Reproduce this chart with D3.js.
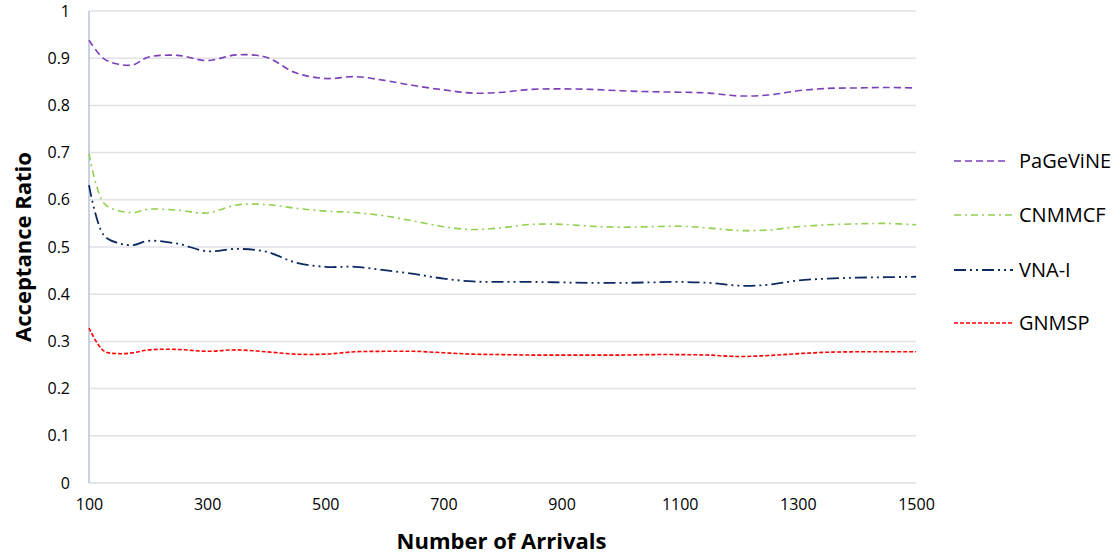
<!DOCTYPE html>
<html>
<head>
<meta charset="utf-8">
<script src="https://cdn.jsdelivr.net/npm/d3@7"></script>
<style>
  html, body { margin: 0; padding: 0; background: #fff; }
  svg { display: block; }
  text { font-family: "Open Sans", "Noto Sans", sans-serif; fill: #000; }
</style>
</head>
<body>
<svg id="chart" width="1120" height="554"></svg>
<script>
// Number of arrivals at which each ratio was sampled
const arrivals = [100, 125, 150, 175, 200, 250, 300, 350, 400, 450, 500, 550, 600, 650, 700, 750,
  800, 850, 900, 950, 1000, 1050, 1100, 1150, 1200, 1250, 1300, 1350, 1400, 1450, 1500];

const pagevine = [0.938, 0.899, 0.887, 0.886, 0.902, 0.906, 0.895, 0.907, 0.902, 0.869, 0.857, 0.861,
  0.853, 0.842, 0.833, 0.826, 0.828, 0.834, 0.835, 0.834, 0.831, 0.829, 0.828, 0.826, 0.820, 0.822,
  0.831, 0.836, 0.837, 0.838, 0.837];
const cnmmcf = [0.698, 0.593, 0.577, 0.573, 0.580, 0.578, 0.572, 0.589, 0.590, 0.582, 0.576, 0.573,
  0.566, 0.555, 0.543, 0.537, 0.541, 0.548, 0.548, 0.544, 0.542, 0.543, 0.544, 0.540, 0.535, 0.536,
  0.543, 0.547, 0.549, 0.550, 0.547];
const vnaI = [0.631, 0.525, 0.508, 0.504, 0.513, 0.507, 0.491, 0.496, 0.490, 0.467, 0.458, 0.458,
  0.451, 0.443, 0.433, 0.427, 0.426, 0.426, 0.425, 0.424, 0.424, 0.425, 0.426, 0.424, 0.418, 0.420,
  0.429, 0.433, 0.435, 0.436, 0.437];
const gnmsp = [0.328, 0.280, 0.274, 0.276, 0.282, 0.283, 0.279, 0.282, 0.278, 0.273, 0.273, 0.278,
  0.279, 0.279, 0.276, 0.273, 0.272, 0.271, 0.271, 0.271, 0.271, 0.272, 0.272, 0.271, 0.268, 0.270,
  0.274, 0.277, 0.278, 0.278, 0.278];

const seriesNames = ["PaGeViNE", "CNMMCF", "VNA-I", "GNMSP"];
const xTicks = [100, 300, 500, 700, 900, 1100, 1300, 1500];
const yTicks = [0, 0.1, 0.2, 0.3, 0.4, 0.5, 0.6, 0.7, 0.8, 0.9, 1];

const series = [
  { name: seriesNames[0], values: pagevine, color: "#7B3FB9", dash: "7,4", width: 1.6 },
  { name: seriesNames[1], values: cnmmcf, color: "#92D050", dash: "7,4,2,4", width: 1.6 },
  { name: seriesNames[2], values: vnaI, color: "#0E2A63", dash: "12,4,2,4,2,4", width: 1.8 },
  { name: seriesNames[3], values: gnmsp, color: "#FF0000", dash: "4,2", width: 1.6 }
];

const svg = d3.select("#chart");
const plotLeft = 89, plotRight = 916, plotTop = 11, plotBottom = 483;

const x = d3.scaleLinear().domain([100, 1500]).range([plotLeft, plotRight]);
const y = d3.scaleLinear().domain([0, 1]).range([plotBottom, plotTop]);

// Horizontal gridlines
svg.append("g")
  .selectAll("line")
  .data(yTicks.slice(1))
  .join("line")
  .attr("x1", plotLeft).attr("x2", plotRight)
  .attr("y1", d => y(d)).attr("y2", d => y(d))
  .attr("stroke", "#E1E1E8").attr("stroke-width", 1.5);

// Y axis labels
const yAxis = svg.append("g")
  .attr("transform", `translate(${plotLeft},0)`)
  .call(d3.axisLeft(y).tickValues(yTicks).tickFormat(d => String(+d.toFixed(1))).tickSize(0).tickPadding(19));
yAxis.select(".domain").remove();
yAxis.selectAll("text").style("font-size", "16px").style("font-family", "'Open Sans', sans-serif");

// X axis labels
const xAxis = svg.append("g")
  .attr("transform", `translate(0,${plotBottom})`)
  .call(d3.axisBottom(x).tickValues(xTicks).tickFormat(d3.format("d")).tickSize(0).tickPadding(16));
xAxis.select(".domain").remove();
xAxis.selectAll("text").style("font-size", "16px").style("font-family", "'Open Sans', sans-serif");

// Axis lines
svg.append("line")
  .attr("x1", plotLeft).attr("x2", plotRight).attr("y1", y(0)).attr("y2", y(0))
  .attr("stroke", "#D9DCE6").attr("stroke-width", 1.5);
svg.append("line")
  .attr("x1", plotLeft).attr("x2", plotLeft).attr("y1", y(0)).attr("y2", y(1))
  .attr("stroke", "#B7C3D8").attr("stroke-width", 1.5);

// Series lines (smoothed)
const line = d3.line()
  .x((d, i) => x(arrivals[i]))
  .y(d => y(d))
  .curve(d3.curveCatmullRom.alpha(0.5));

svg.append("g")
  .selectAll("path")
  .data(series)
  .join("path")
  .attr("d", d => line(d.values))
  .attr("fill", "none")
  .attr("stroke", d => d.color)
  .attr("stroke-width", d => d.width)
  .attr("stroke-dasharray", d => d.dash);

// Legend
const legendY = [161, 215, 270, 323];
const legend = svg.append("g");
series.forEach((s, i) => {
  legend.append("line")
    .attr("x1", 954).attr("x2", i === 0 ? 1009 : 1013)
    .attr("y1", legendY[i]).attr("y2", legendY[i])
    .attr("stroke", s.color).attr("stroke-width", s.width)
    .attr("stroke-dasharray", s.dash);
  legend.append("text")
    .attr("x", 1019).attr("y", legendY[i])
    .attr("dy", "0.35em")
    .style("font-size", "20px")
    .text(s.name);
});

// Axis titles
svg.append("text")
  .attr("x", (plotLeft + plotRight) / 2 - 1).attr("y", 549)
  .attr("text-anchor", "middle")
  .style("font-size", "22px").style("font-weight", "bold")
  .text("Number of Arrivals");

svg.append("text")
  .attr("transform", `translate(31,${(plotTop + plotBottom) / 2}) rotate(-90)`)
  .attr("text-anchor", "middle")
  .style("font-size", "22px").style("font-weight", "bold")
  .text("Acceptance Ratio");
</script>
</body>
</html>
